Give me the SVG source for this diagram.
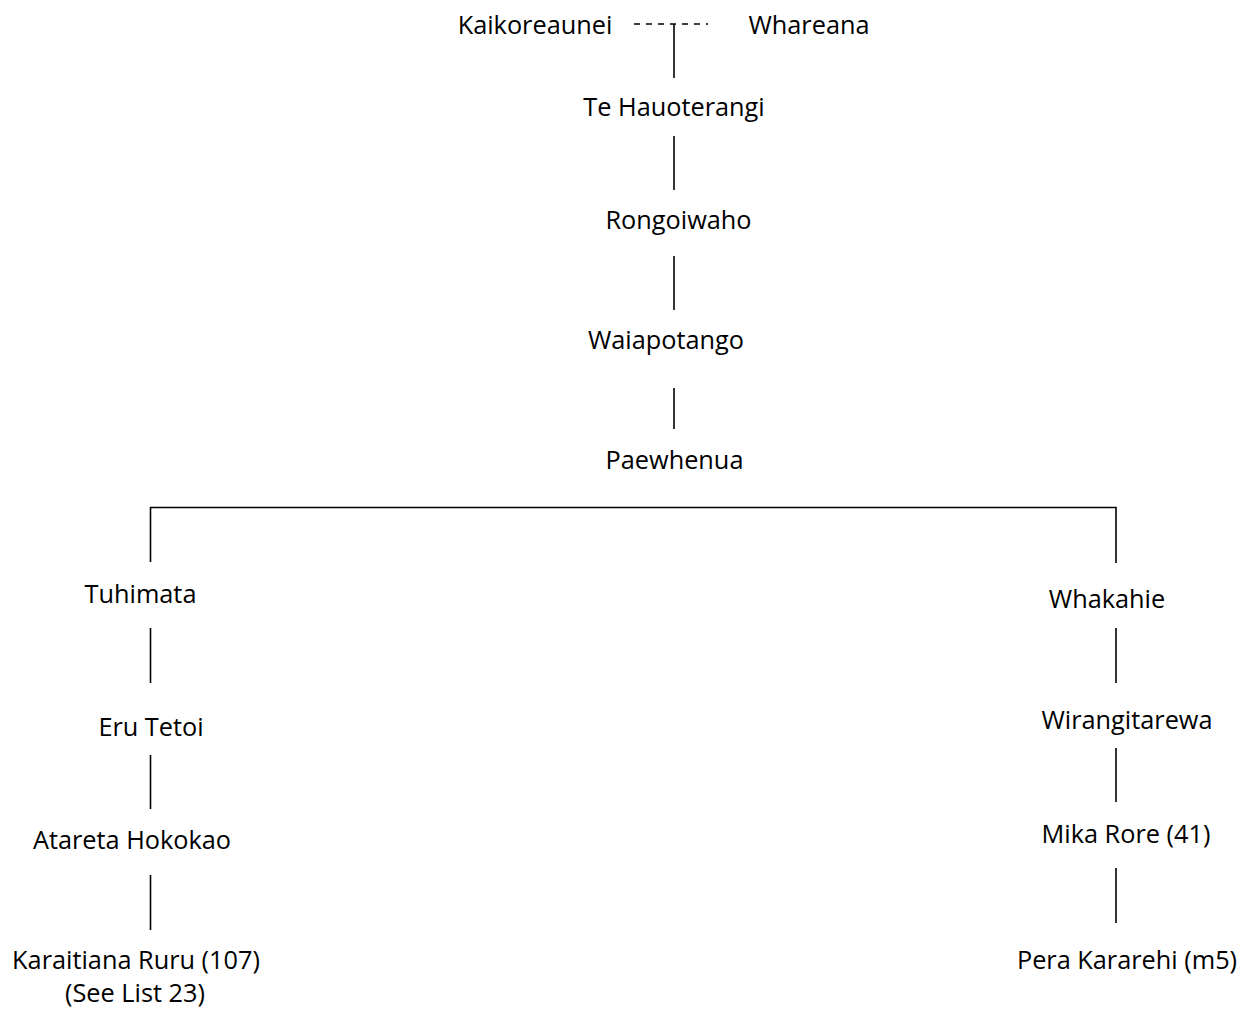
<svg xmlns="http://www.w3.org/2000/svg" width="1242" height="1010" viewBox="0 0 1242 1010">
  <style>
    .name { font-family: "Open Sans", "Liberation Sans", sans-serif; font-size: 25.3px; fill: #000; text-anchor: middle; }
    .line { stroke: #000; stroke-width: 1.6; fill: none; }
    .dash { stroke: #000; stroke-width: 1.6; fill: none; stroke-dasharray: 6 6; }
  </style>
  <rect width="1242" height="1010" fill="#fff"/>

  <!-- connectors -->
  <g id="connectors">
    <line class="dash" x1="634" y1="24" x2="708" y2="24"/>
    <line class="line" x1="674" y1="24" x2="674" y2="78"/>
    <line class="line" x1="674" y1="136" x2="674" y2="190"/>
    <line class="line" x1="674" y1="256" x2="674" y2="310"/>
    <line class="line" x1="674" y1="388" x2="674" y2="429"/>
    <polyline class="line" points="150.5,562 150.5,507.5 1116,507.5 1116,563"/>
    <line class="line" x1="150.5" y1="628" x2="150.5" y2="683"/>
    <line class="line" x1="150.5" y1="755" x2="150.5" y2="809"/>
    <line class="line" x1="150.5" y1="875" x2="150.5" y2="930"/>
    <line class="line" x1="1116" y1="628" x2="1116" y2="683"/>
    <line class="line" x1="1116" y1="748" x2="1116" y2="802"/>
    <line class="line" x1="1116" y1="868" x2="1116" y2="923"/>
  </g>

  <!-- people -->
  <g id="kaikoreaunei"><text class="name" x="535" y="34">Kaikoreaunei</text></g>
  <g id="whareana"><text class="name" x="809" y="34">Whareana</text></g>
  <g id="te-hauoterangi"><text class="name" x="674" y="116">Te Hauoterangi</text></g>
  <g id="rongoiwaho"><text class="name" x="678.5" y="229">Rongoiwaho</text></g>
  <g id="waiapotango"><text class="name" x="666" y="349">Waiapotango</text></g>
  <g id="paewhenua"><text class="name" x="674.5" y="469">Paewhenua</text></g>
  <g id="tuhimata"><text class="name" x="140.5" y="602.5">Tuhimata</text></g>
  <g id="eru-tetoi"><text class="name" x="151" y="736">Eru Tetoi</text></g>
  <g id="atareta-hokokao"><text class="name" x="132" y="849">Atareta Hokokao</text></g>
  <g id="karaitiana-ruru">
    <text class="name" x="136" y="969">Karaitiana Ruru (107)</text>
    <text class="name" x="135" y="1002">(See List 23)</text>
  </g>
  <g id="whakahie"><text class="name" x="1107" y="607.5">Whakahie</text></g>
  <g id="wirangitarewa"><text class="name" x="1127" y="729">Wirangitarewa</text></g>
  <g id="mika-rore"><text class="name" x="1126" y="843">Mika Rore (41)</text></g>
  <g id="pera-kararehi"><text class="name" x="1127" y="969">Pera Kararehi (m5)</text></g>
</svg>
